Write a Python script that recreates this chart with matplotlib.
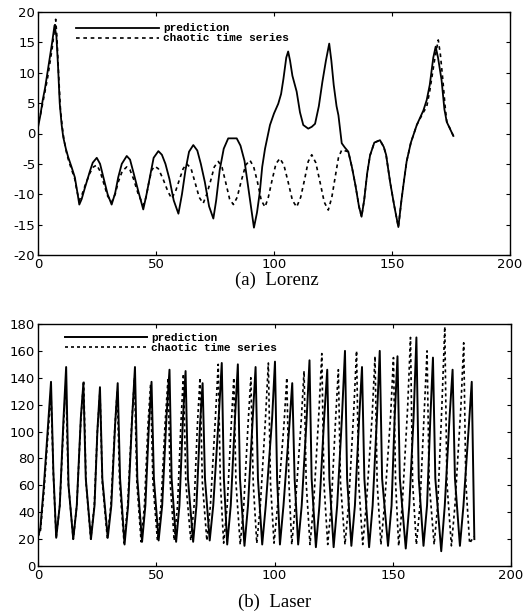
import matplotlib
matplotlib.use("Agg")
import matplotlib.pyplot as plt

plt.rcParams["axes.unicode_minus"] = False
plt.rcParams["font.family"] = "DejaVu Sans"

# ---- (a) Lorenz: (t, value) ----
lorenz_pred = [
    (0, 1), (1, 3), (2, 5.5), (3, 7.5), (4, 10), (5, 12.5), (6, 15), (7, 17.8), (7.8, 16),
    (8.5, 11), (9.2, 5), (10, 1.5), (10.7, -0.6), (11.8, -2.5), (12.8, -3.9), (14.2, -5.5),
    (15.6, -7.2), (16.6, -9.5), (17.5, -11.7), (18.5, -10.8), (19.9, -8.9), (21, -7.5),
    (22, -6.2), (23.2, -4.8), (24.9, -4.0), (26.3, -5.0), (27.7, -7.2), (29.5, -10),
    (31.2, -11.7), (32.7, -9.8), (34, -7.2), (35.5, -5), (37.6, -3.7), (39, -4.3),
    (40.5, -6.5), (42.5, -9.5), (44.6, -12.5), (46, -10), (47.5, -7), (49, -4), (51, -2.9),
    (52.5, -3.5), (54, -5), (55.7, -7.5), (57.5, -11), (59.5, -13.2), (61, -10), (62.5, -6),
    (64, -3), (65.8, -1.9), (67.5, -2.8), (69, -5), (70.7, -8), (72.5, -12), (74.3, -14),
    (75.5, -11), (77, -6), (78.7, -2.5), (80.6, -0.8), (84.2, -0.8), (85.8, -2), (87.5, -4.5),
    (89.5, -10), (91.5, -15.5), (92.8, -13), (94, -9.6), (95, -5.5), (96.2, -2.5), (98.3, 1.4),
    (100, 3.3), (101.8, 4.9), (103, 6.5), (104, 9), (105.2, 12.5), (106, 13.5), (106.8, 12),
    (107.8, 9.5), (109.6, 6.9), (111, 3.5), (112.4, 1.4), (114.5, 0.8), (116, 1.1),
    (117.4, 1.6), (119, 4.5), (120.5, 8.5), (122, 12), (123.4, 14.8), (124.3, 12),
    (125.3, 8), (126.5, 4.5), (127.3, 3), (128.7, -1.6), (130, -2.3), (131.5, -3),
    (133, -5.5), (134.5, -8.5), (136, -12), (137.1, -13.7), (138.2, -11), (139.5, -6.5),
    (140.7, -3.6), (142.5, -1.5), (144.9, -1.1), (146.5, -2.2), (147.5, -3.5), (149.2, -8),
    (151, -12), (152.7, -15.4), (154, -11), (155, -8), (156.2, -4.6), (158, -1.5),
    (160.5, 1.4), (163.3, 3.8), (164.7, 5.5), (166, 8), (167.5, 12.5), (168.5, 14.3),
    (169.5, 12.5), (171, 8.8), (172.2, 4), (173.2, 1.9), (176, -0.4),
]

lorenz_true = [
    (0, 2), (1, 3), (2, 5), (3, 7), (4, 9), (5, 11.5), (6, 14), (7.5, 18.8), (8, 16),
    (8.7, 10), (9.5, 4), (10.3, 1), (11, -1), (12, -3), (13, -4.5), (14.3, -6), (15.6, -7.5),
    (16.5, -9.5), (17.5, -11), (18.7, -10), (20, -8.5), (21, -7.5), (22, -6.5), (23.5, -5.5),
    (24.9, -5.2), (26.3, -6.2), (27.7, -8), (29.5, -10.3), (31.2, -11.3), (32.7, -10),
    (34, -8), (35.7, -6.2), (37.6, -5.5), (39, -6), (40.5, -7.5), (42.5, -10), (44.6, -11.8),
    (45.8, -10.5), (47, -8), (48.2, -6), (49.5, -5.4), (51, -5.8), (53, -7.5), (55, -9.5),
    (56.6, -10.7), (58.3, -9.5), (60, -7.5), (61.5, -5.8), (63, -5), (64.8, -5.7),
    (66.5, -8), (68.3, -10.5), (70, -11.5), (71.5, -10), (73, -8), (74.7, -5.5),
    (76.4, -4.6), (78, -5.6), (79.5, -8), (81.2, -10.8), (82.8, -11.7), (84.4, -10.5),
    (86, -8), (88, -5.2), (89.8, -4.4), (91.4, -5.5), (93, -8), (94.6, -11), (96.2, -12.1),
    (97.6, -10.5), (99, -8), (100.8, -5), (102.5, -4.1), (104.2, -5.2), (106, -8),
    (107.8, -11), (109.6, -12.1), (111.3, -10.5), (113, -7.5), (114.5, -4.6), (116, -3.5),
    (117.7, -4.8), (119.5, -8), (121.3, -11.3), (123, -12.6), (124.5, -10.5), (126, -7),
    (127.3, -4), (128.7, -2.7), (131.5, -3.0), (133, -5.5), (134.5, -8.5), (136, -12),
    (137.1, -13.7), (138.2, -11), (139.5, -6.5), (140.7, -3.6), (142.5, -1.5), (144.9, -1.1),
    (146.5, -2.2), (147.5, -3.5), (149.2, -8), (151, -12), (152.7, -15.4), (154, -11),
    (155, -8), (156.2, -4.6), (158, -1.5), (160.5, 1.4), (163.3, 3.5), (164.7, 4.4),
    (166, 7), (168, 12), (169.6, 15.4), (170.5, 13), (171.5, 9), (172.5, 4.5), (173.2, 2),
    (176, -0.4),
]

# ---- (b) Laser ----
laser_pred_x = [0, 1, 2.5, 4.3, 5.5, 6.5, 7.7,
                9.2, 10.8, 11.9, 12.9, 14.9,
                16.4, 18.1, 19.2, 20.2, 22.4,
                23.9, 25.1, 26.2, 27.2, 29.5,
                31, 32.6, 33.7, 34.7, 36.6,
                38.1, 39.8, 41, 42, 44,
                45.4, 46.9, 48, 49, 51,
                52.5, 54.3, 55.6, 56.5, 58.4,
                59.8, 61.3, 62.4, 63.4, 65.6,
                67, 68.5, 69.6, 70.6, 72.6,
                74.1, 76.4, 77.7, 78.6, 80,
                81.5, 83.3, 84.5, 85.4, 87.3,
                88.8, 90.8, 92, 93, 94.8,
                96.3, 99, 100.2, 101.1, 102.3,
                103.8, 106.3, 107.5, 108.5, 110,
                111.5, 113.6, 114.8, 115.7, 117.5,
                119, 121, 122.3, 123.2, 125,
                126.5, 128.5, 129.8, 130.7, 132.5,
                134, 135.8, 137, 138, 140,
                141.5, 143.3, 144.5, 145.5, 148,
                149.5, 150.8, 152, 153, 155.5,
                157, 158.8, 160, 161, 163,
                164.5, 165.9, 167, 168, 170.5,
                172, 174, 175.3, 176.3, 178.4,
                179.9, 182.2, 183.4, 184.5]
laser_pred_y = [22, 28, 60, 106, 137, 70, 21,
                45, 110, 148, 60, 20,
                45, 110, 136, 65, 20,
                45, 100, 133, 65, 21,
                45, 105, 136, 65, 16,
                45, 110, 148, 65, 18,
                45, 105, 137, 65, 19,
                45, 110, 146, 65, 18,
                45, 110, 145, 65, 18,
                45, 105, 136, 65, 19,
                45, 110, 151, 65, 16,
                45, 110, 150, 65, 15,
                45, 110, 148, 65, 16,
                45, 110, 152, 65, 16,
                45, 105, 136, 65, 16,
                45, 110, 153, 65, 14,
                45, 110, 146, 65, 14,
                45, 110, 160, 65, 15,
                45, 110, 148, 65, 14,
                45, 110, 160, 65, 15,
                45, 110, 156, 65, 13,
                45, 110, 170, 65, 15,
                45, 110, 155, 65, 11,
                45, 110, 146, 65, 15,
                45, 105, 137, 20]

laser_true_x = [0, 1, 2.5, 4.3, 5.5, 6.5, 7.7,
                9.2, 10.8, 11.8, 12.8, 14.9,
                16.4, 18.1, 19.3, 20.3, 22.3,
                23.8, 25.1, 26.2, 27.2, 29.3,
                30.8, 32.4, 33.5, 34.5, 36.4,
                37.9, 39.6, 40.8, 41.8, 43.6,
                45, 46.5, 47.6, 48.6, 50.5,
                52, 53.7, 55, 55.9, 57.6,
                59, 60.4, 61.5, 62.5, 64.6,
                66, 67.4, 68.5, 69.5, 71.4,
                72.9, 75, 76.2, 77.1, 78.5,
                80, 81.7, 82.8, 83.7, 85.5,
                87, 88.8, 90, 91, 92.5,
                94, 96.2, 97.4, 98.3, 99.8,
                101.3, 104, 105.2, 106.1, 107.3,
                108.8, 111.3, 112.5, 113.4, 115,
                116.5, 118.8, 120, 120.9, 122.5,
                124, 125.8, 127, 127.9, 129.8,
                131.3, 133.5, 134.7, 135.6, 137.3,
                138.8, 141.3, 142.5, 143.4, 145,
                146.5, 149.1, 150.3, 151.2, 152.5,
                154, 156.3, 157.5, 158.4, 160,
                161.5, 163.3, 164.5, 165.4, 167.5,
                169, 170.8, 172, 172.9, 174.8,
                176.3, 178.8, 180, 180.9, 182.5,
                184.4]
laser_true_y = [22, 26, 55, 100, 128, 68, 21,
                45, 105, 135, 62, 20,
                45, 108, 138, 62, 20,
                45, 100, 130, 62, 21,
                45, 100, 130, 62, 17,
                45, 105, 140, 62, 18,
                45, 105, 135, 62, 19,
                45, 105, 140, 62, 19,
                45, 105, 143, 62, 19,
                45, 105, 140, 62, 19,
                45, 110, 150, 62, 17,
                45, 105, 140, 62, 16,
                45, 105, 140, 62, 17,
                45, 110, 151, 62, 17,
                45, 105, 140, 62, 16,
                45, 108, 145, 62, 16,
                45, 115, 158, 62, 16,
                45, 108, 146, 62, 16,
                45, 115, 160, 62, 16,
                45, 112, 156, 62, 16,
                45, 112, 155, 62, 15,
                45, 118, 170, 62, 16,
                45, 115, 160, 62, 16,
                45, 120, 178, 62, 15,
                45, 118, 166, 62, 17,
                22]

series_labels = ["prediction", "chaotic time series"]

W, H = 527, 616
fig = plt.figure(figsize=(W / 100, H / 100), dpi=100)

ax1 = fig.add_axes([38 / W, 1 - 255 / H, (510 - 38) / W, (255 - 12) / H])
ax2 = fig.add_axes([38 / W, 1 - 566 / H, (511 - 38) / W, (566 - 324) / H])

dash = (0, (2.2, 2.2))


def style(ax, ylim, yticks):
    ax.set_xlim(0, 200)
    ax.set_ylim(*ylim)
    ax.set_xticks([0, 50, 100, 150, 200])
    ax.set_yticks(yticks)
    ax.tick_params(direction="in", length=3, width=0.8, top=True, right=True,
                   labelsize=9.5, pad=2)
    for s in ax.spines.values():
        s.set_linewidth(1.0)


ax1.plot([p[0] for p in lorenz_pred], [p[1] for p in lorenz_pred], color="black",
         lw=1.3, label=series_labels[0])
ax1.plot([p[0] for p in lorenz_true], [p[1] for p in lorenz_true], color="black",
         lw=1.2, linestyle=dash, label=series_labels[1])
style(ax1, (-20, 20), list(range(-20, 21, 5)))

ax2.plot(laser_pred_x, laser_pred_y, color="black", lw=1.4, label=series_labels[0])
ax2.plot(laser_true_x, laser_true_y, color="black", lw=1.2, linestyle=(0, (1.8, 1.8)),
         label=series_labels[1])
style(ax2, (0, 180), list(range(0, 181, 20)))

leg_font = {"family": "Liberation Mono", "weight": "bold", "size": 8}
for ax, anchor in ((ax1, (0.065, 0.985)), (ax2, (0.04, 0.995))):
    ax.legend(loc="upper left", bbox_to_anchor=anchor, frameon=False, prop=leg_font,
              handlelength=7.4, handletextpad=0.4, labelspacing=0.0, borderpad=0.2)

fig.text(277 / W, 1 - 280 / H, "(a)  Lorenz", ha="center", va="center",
         family="Liberation Serif", fontsize=13.5)
fig.text(275 / W, 1 - 602 / H, "(b)  Laser", ha="center", va="center",
         family="Liberation Serif", fontsize=13.5)

fig.savefig("out.png", dpi=100)
